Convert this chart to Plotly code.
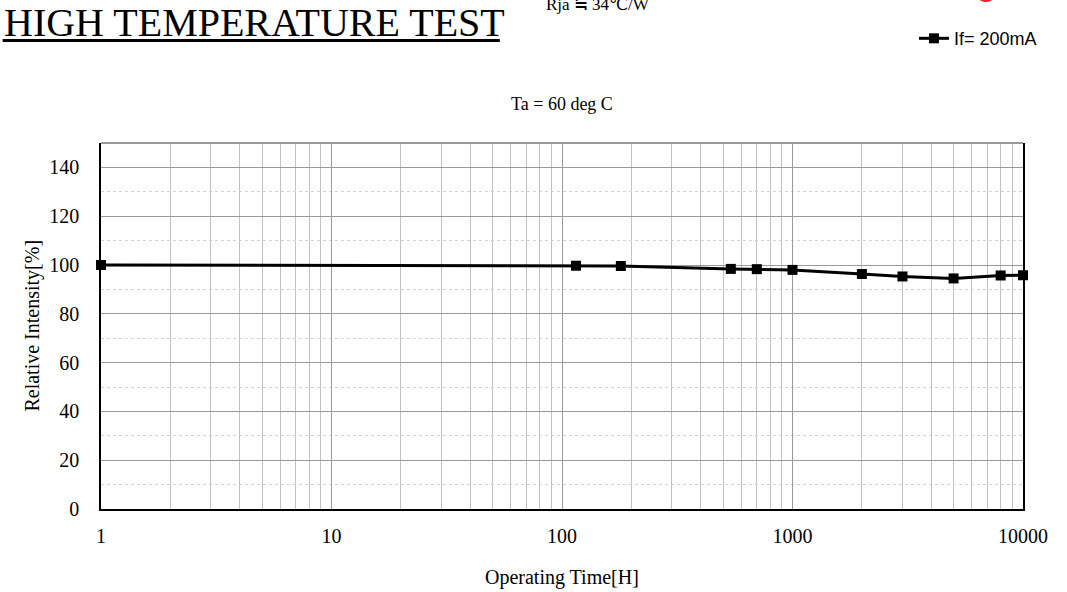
import plotly.graph_objects as go

# ---- data ----
hours = [1, 115, 180, 540, 700, 1000, 2000, 3000, 5000, 8000, 10000]
intensity = [100.0, 99.7, 99.6, 98.4, 98.3, 98.0, 96.3, 95.3, 94.5, 95.7, 95.8]
series_name = "If= 200mA"
x_ticks = [1, 10, 100, 1000, 10000]
x_tick_text = ["1", "10", "100", "1000", "10000"]
y_ticks = [0, 20, 40, 60, 80, 100, 120, 140]

W, H = 1067, 592
L, R, T, B = 101.3, 1023.0, 143.3, 509.0
PW, PH = R - L, B - T


def px(x):
    return (x - L) / PW


def py(y):
    return (B - y) / PH


SERIF = "Liberation Serif"
SANS = "Liberation Sans"

fig = go.Figure()
fig.add_trace(go.Scatter(
    x=hours, y=intensity, name=series_name, mode="lines+markers",
    line=dict(color="black", width=3),
    marker=dict(symbol="square", size=10, color="black"),
    cliponaxis=False,
))

fig.update_layout(
    width=W, height=H,
    margin=dict(l=L, r=W - R, t=T, b=H - B),
    paper_bgcolor="white", plot_bgcolor="white",
    font=dict(family=SERIF, color="black", size=18),
    showlegend=True,
    legend=dict(x=px(914), y=py(39), xanchor="left", yanchor="middle",
                font=dict(family=SANS, size=18, color="black"),
                bgcolor="rgba(0,0,0,0)", borderwidth=0),
    xaxis=dict(
        type="log", range=[0, 4],
        tickvals=x_ticks, ticktext=x_tick_text,
        tickfont=dict(family=SERIF, size=20),
        ticklabelstandoff=8,
        showgrid=True, gridcolor="#9a9a9a", gridwidth=1,
        minor=dict(dtick="D1", showgrid=True, gridcolor="#c2c2c2", gridwidth=1, ticks=""),
        showline=True, linecolor="black", linewidth=1.5, mirror=False,
        ticks="", ticklen=0, zeroline=False,
    ),
    yaxis=dict(
        range=[0, 150], tickvals=y_ticks,
        tickfont=dict(family=SERIF, size=20),
        ticklabelstandoff=16,
        showgrid=True, gridcolor="#9a9a9a", gridwidth=1,
        minor=dict(dtick=10, showgrid=True, gridcolor="#d2d2d2", griddash="dot", ticks=""),
        showline=True, linecolor="black", linewidth=1.5, mirror=True,
        ticks="", zeroline=False,
    ),
)

annotations = [
    dict(text="HIGH TEMPERATURE TEST", x=px(2), y=py(47), xanchor="left", yanchor="bottom",
         font=dict(family=SERIF, size=40)),
    dict(text="Rja ≒ 34℃/W", x=px(544), y=py(16), xanchor="left", yanchor="bottom",
         font=dict(family=SERIF, size=17)),
    dict(text="Ta = 60 deg C", x=0.5, y=py(104), xanchor="center", yanchor="middle",
         font=dict(family=SERIF, size=18)),
    dict(text="Operating Time[H]", x=0.5, y=py(577), xanchor="center", yanchor="middle",
         font=dict(family=SERIF, size=20)),
    dict(text="Relative Intensity[%]", x=px(33), y=py(326), xanchor="center", yanchor="middle",
         textangle=-90, font=dict(family=SERIF, size=20)),
]
for a in annotations:
    a.update(xref="paper", yref="paper", showarrow=False)
fig.update_layout(annotations=annotations)

shapes = [
    # title underline
    dict(type="line", x0=px(3), x1=px(500), y0=py(41), y1=py(41),
         line=dict(color="black", width=3)),
    # top border of plot
    dict(type="line", x0=0, x1=1, y0=1, y1=1, line=dict(color="#9a9a9a", width=2)),
    # red mark partially visible at top right
    dict(type="circle", x0=px(975), x1=px(997), y0=py(2), y1=py(-20),
         fillcolor="#e8262a", line=dict(color="#e8262a", width=1)),
]
for s in shapes:
    s.update(xref="paper", yref="paper")
fig.update_layout(shapes=shapes)

fig.write_html(
    "out.html",
    config={"displayModeBar": False},
    post_script="document.body.style.margin='0px';document.body.style.overflow='hidden';",
)
